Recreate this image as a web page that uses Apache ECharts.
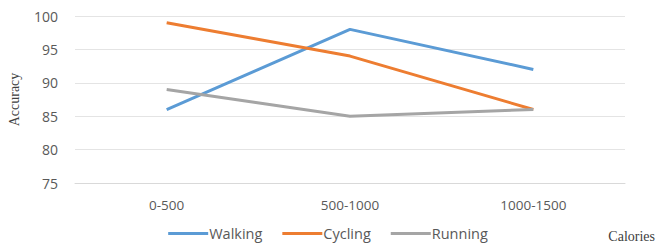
<!DOCTYPE html>
<html>
<head>
<meta charset="utf-8">
<script src="https://cdn.jsdelivr.net/npm/echarts@6/dist/echarts.min.js"></script>
<style>
  html, body { margin: 0; padding: 0; background: #fff; }
  #chart { width: 656px; height: 249px; }
</style>
</head>
<body>
<div id="chart"></div>
<script>
// data
var categories = ['0-500', '500-1000', '1000-1500'];
var walking = [86, 98, 92];
var cycling = [99, 94, 86];
var running = [89, 85, 86];

var ink = '#595959';
var font = '"Open Sans", sans-serif';
var serif = '"Liberation Serif", "DejaVu Serif", serif';

function line(name, data, color) {
  return {
    name: name,
    type: 'line',
    data: data,
    symbol: 'none',
    lineStyle: { width: 3, color: color },
    itemStyle: { color: color },
    animation: false
  };
}

var chart = echarts.init(document.getElementById('chart'), null, { renderer: 'svg' });
chart.setOption({
  animation: false,
  textStyle: { fontFamily: font, color: ink },
  grid: { left: 75, right: 31, top: 16, bottom: 66, containLabel: false, outerBoundsMode: 'none' },
  legend: {
    bottom: 3,
    left: 'center',
    icon: 'rect',
    itemWidth: 40,
    itemHeight: 3,
    itemGap: 20,
    textStyle: { color: ink, fontSize: 14.5, fontFamily: font, padding: [0, 0, 0, -4] },
    data: ['Walking', 'Cycling', 'Running']
  },
  xAxis: {
    type: 'category',
    data: categories,
    boundaryGap: true,
    axisLine: { lineStyle: { color: '#d9d9d9' } },
    axisTick: { show: false },
    axisLabel: { color: ink, fontSize: 13.5, margin: 15 },
    name: 'Calories',
    nameLocation: 'end',
    nameGap: 30,
    nameTextStyle: {
      fontFamily: serif, fontSize: 14, color: '#404040',
      align: 'right', verticalAlign: 'top', padding: [46, 0, 0, 0]
    }
  },
  yAxis: {
    type: 'value',
    min: 75,
    max: 100,
    interval: 5,
    axisLine: { show: false },
    axisTick: { show: false },
    axisLabel: { color: ink, fontSize: 14, margin: 17 },
    splitLine: { lineStyle: { color: '#e4e4e4' } },
    name: 'Accuracy',
    nameLocation: 'middle',
    nameGap: 54,
    nameTextStyle: { fontFamily: serif, fontSize: 14, color: '#404040' }
  },
  series: [
    line('Walking', walking, '#5b9bd5'),
    line('Cycling', cycling, '#ed7d31'),
    line('Running', running, '#a5a5a5')
  ]
});
</script>
</body>
</html>
